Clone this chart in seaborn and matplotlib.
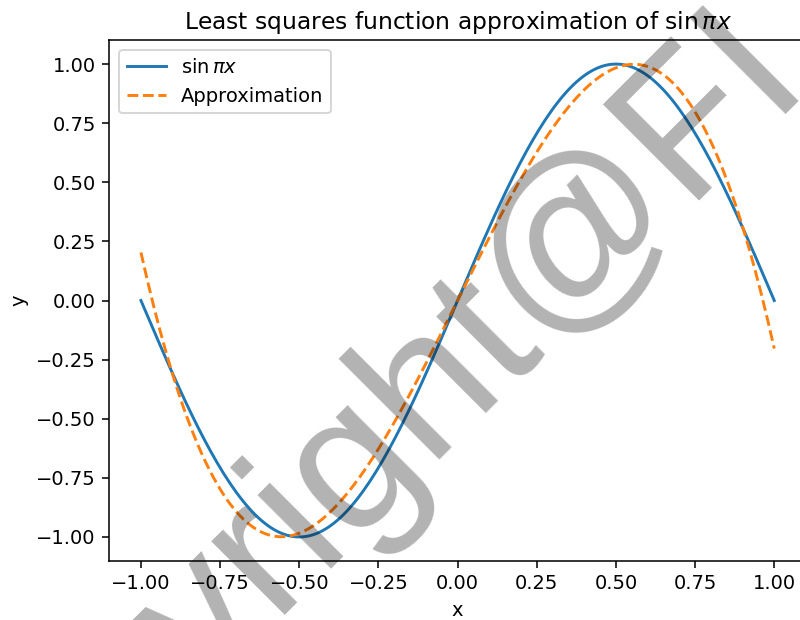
import numpy as np
import pandas as pd
import matplotlib
matplotlib.use("Agg")
import matplotlib.pyplot as plt
import seaborn as sns

# Sample grid on [-1, 1]
x_vals = np.linspace(-1.0, 1.0, 200)

# Target function sin(pi x)
target_vals = np.sin(np.pi * x_vals)

# Least squares cubic (Legendre projection) coefficients, lowest degree first
approx_coefs = [0.0, 2.6918, 0.0, -2.8950]
approx_vals = np.polynomial.polynomial.polyval(x_vals, approx_coefs)

series_labels = [r"$\sin\pi x$", "Approximation"]
series_colors = ["#1f77b4", "#ff7f0e"]
tick_vals = [-1.0, -0.75, -0.5, -0.25, 0.0, 0.25, 0.5, 0.75, 1.0]

df = pd.DataFrame({"x": x_vals, "target": target_vals, "approx": approx_vals})

DPI = 140
fig = plt.figure(figsize=(800 / DPI, 620 / DPI), dpi=DPI)
ax = fig.add_axes([0.1366, 0.0958, 0.8708, 0.839])

sns.lineplot(data=df, x="x", y="target", ax=ax, color=series_colors[0],
             label=series_labels[0], linewidth=1.5)
sns.lineplot(data=df, x="x", y="approx", ax=ax, color=series_colors[1],
             label=series_labels[1], linewidth=1.5, linestyle="--")

ax.set_title(r"Least squares function approximation of $\sin\pi x$")
ax.set_xlabel("x")
ax.set_ylabel("y")
ax.set_xticks(tick_vals)
ax.set_yticks(tick_vals)
ax.legend(loc="upper left")

# Diagonal copyright watermark over the whole figure
fig.text(-52 / 800, 1 - 942 / 620, "Copyright@FI", fontsize=101.3,
         family="Liberation Sans",
         color="black", alpha=0.3, rotation=45, rotation_mode="anchor",
         ha="left", va="baseline", zorder=10)

fig.savefig("out.png", dpi=DPI)
